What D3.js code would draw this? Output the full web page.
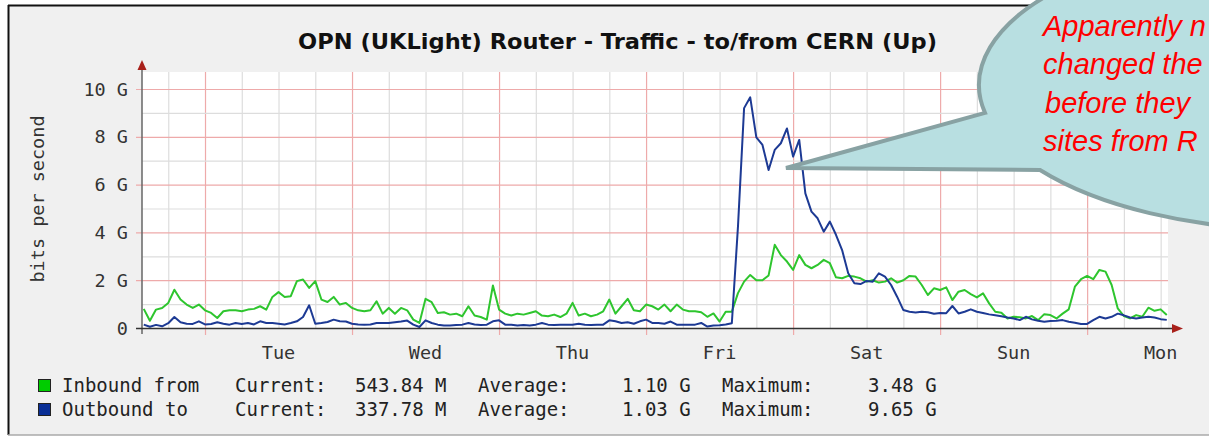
<!DOCTYPE html>
<html><head><meta charset="utf-8">
<script src="https://cdn.jsdelivr.net/npm/d3@7"></script>
<style>html,body{margin:0;padding:0;background:#fff;overflow:hidden}</style>
</head><body><div id="chart"></div>
<script>
// ---- data (hours measured from Tue 00:00, one sample per hour) ----
const titleText = "OPN (UKLight) Router - Traffic - to/from CERN (Up)";
const startHour = -10;
const inbound = [0.80,0.30,0.77,0.84,1.05,1.60,1.19,0.98,0.84,0.98,
0.74,0.63,0.42,0.70,0.74,0.74,0.70,0.77,0.80,0.91,0.77,1.30,1.50,1.30,1.33,1.96,2.03,1.68,1.96,1.19,1.09,1.30,0.98,1.05,
0.84,0.74,0.70,0.74,1.12,0.60,0.84,0.60,0.84,0.74,0.35,0.21,1.22,1.08,0.63,0.66,0.56,0.60,0.49,0.91,0.52,0.46,0.35,1.78,
0.77,0.60,0.52,0.60,0.56,0.63,0.70,0.52,0.49,0.56,0.46,0.60,1.05,0.52,0.60,0.49,0.56,0.70,1.19,0.60,0.91,1.22,0.74,0.70,
0.98,0.91,0.77,0.98,0.70,0.98,0.77,0.70,0.70,0.66,0.47,0.61,0.27,0.68,0.68,1.46,1.94,2.22,2.00,2.00,2.20,3.48,3.05,2.78,
2.43,3.05,2.64,2.50,2.64,2.85,2.71,2.12,2.08,2.18,2.15,2.08,1.94,2.00,1.90,1.94,2.08,1.90,2.00,2.18,2.15,1.80,1.38,1.66,
1.59,1.70,1.17,1.52,1.59,1.42,1.28,1.45,1.03,0.68,0.64,0.40,0.47,0.45,0.40,0.50,0.33,0.58,0.54,0.40,0.60,0.78,1.73,2.04,
2.18,2.04,2.43,2.36,1.80,0.82,0.50,0.40,0.54,0.47,0.85,0.72,0.78,0.54];
const outbound = [0.14,0.05,0.13,0.07,0.20,0.46,0.24,0.18,0.17,0.28,
0.15,0.17,0.24,0.18,0.14,0.21,0.17,0.21,0.15,0.28,0.21,0.21,0.18,0.15,0.21,0.28,0.46,0.95,0.18,0.21,0.25,0.35,0.28,0.27,
0.18,0.15,0.14,0.15,0.21,0.21,0.21,0.24,0.27,0.31,0.14,0.04,0.32,0.21,0.14,0.10,0.10,0.13,0.14,0.21,0.15,0.13,0.14,0.28,
0.32,0.14,0.14,0.10,0.13,0.10,0.14,0.21,0.14,0.13,0.14,0.14,0.14,0.18,0.14,0.13,0.14,0.14,0.32,0.28,0.21,0.24,0.18,0.28,
0.35,0.21,0.21,0.18,0.27,0.14,0.14,0.14,0.14,0.21,0.06,0.10,0.12,0.15,0.20,4.24,9.20,9.65,7.98,7.66,6.61,7.45,7.73,8.35,
7.17,7.87,5.63,4.87,4.59,4.03,4.45,3.90,3.26,2.29,1.87,1.84,1.97,1.94,2.29,2.15,1.80,1.30,0.75,0.68,0.65,0.68,0.66,0.60,
0.63,0.62,0.92,0.61,0.68,0.78,0.68,0.63,0.57,0.53,0.49,0.44,0.40,0.33,0.47,0.36,0.30,0.26,0.29,0.30,0.33,0.26,0.22,0.17,
0.17,0.33,0.47,0.40,0.47,0.60,0.53,0.44,0.40,0.44,0.47,0.44,0.37,0.34];
const dayLabels = ["Tue","Wed","Thu","Fri","Sat","Sun","Mon"];
const yTicks = [0,2,4,6,8,10];
const yTickLabels = ["0","2 G","4 G","6 G","8 G","10 G"];
const legendNames = ["Inbound from","Outbound to"];
const legendCurrent = ["543.84 M","337.78 M"];
const legendAverage = ["1.10 G","1.03 G"];
const legendMaximum = ["3.48 G","9.65 G"];
const calloutLines = ["Apparently n","changed the","before they","sites from R"];

// ---- layout ----
const W = 1209, H = 438;
const mono = "'DejaVu Sans Mono', monospace";
const svg = d3.select("#chart").append("svg").attr("width", W).attr("height", H);

const x = d3.scaleLinear().domain([-10.286, 157.2]).range([142, 1168]);
const y = d3.scaleLinear().domain([0, 10]).range([328, 89]);
const yTop = y.invert(72);

// panel
svg.append("rect").attr("x",8).attr("y",5).attr("width",W).attr("height",430).attr("fill","#f0f0f0");
svg.append("line").attr("x1",8).attr("x2",W).attr("y1",5.5).attr("y2",5.5).attr("stroke","#111").attr("stroke-width",2);
svg.append("line").attr("x1",8.5).attr("x2",8.5).attr("y1",5).attr("y2",435).attr("stroke","#111").attr("stroke-width",2);
svg.append("line").attr("x1",8).attr("x2",W).attr("y1",435).attr("y2",435).attr("stroke","#aaa").attr("stroke-width",1.5);

// plot bg
svg.append("rect").attr("x",x.range()[0]).attr("y",y(yTop)).attr("width",x.range()[1]-x.range()[0]).attr("height",y(0)-y(yTop)).attr("fill","#fff");

// grid
const vHours = d3.range(-6, 157, 6);
svg.append("g").selectAll("line").data(vHours).join("line")
  .attr("x1", d=>x(d)+0.5).attr("x2", d=>x(d)+0.5)
  .attr("y1", y(yTop)).attr("y2", d => d%24===0 ? y(0)+7 : y(0))
  .attr("stroke", d => d%24===0 ? "#eeaaaa" : "#dddddd").attr("stroke-width",1.2);
const hVals = d3.range(1, 11, 1);
svg.append("g").selectAll("line").data(hVals).join("line")
  .attr("x1", d => d%2===0 ? 136 : x.range()[0]).attr("x2", x.range()[1])
  .attr("y1", d=>y(d)+0.5).attr("y2", d=>y(d)+0.5)
  .attr("stroke", d => d%2===0 ? "#eeaaaa" : "#dddddd").attr("stroke-width",1.2);

// series
const line = d3.line().x((d,i)=>x(startHour+i)).y(d=>y(d));
svg.append("path").datum(inbound).attr("d",line).attr("fill","none").attr("stroke","#2ec52e").attr("stroke-width",2).attr("stroke-linejoin","round");
svg.append("path").datum(outbound).attr("d",line).attr("fill","none").attr("stroke","#1d3a94").attr("stroke-width",2).attr("stroke-linejoin","round");

// axes
svg.append("line").attr("x1",142).attr("x2",142).attr("y1",y(0)+6).attr("y2",66).attr("stroke","#666").attr("stroke-width",1.5);
svg.append("path").attr("d","M142,60 L137.5,70 L146.5,70 Z").attr("fill","#a8201a");
svg.append("line").attr("x1",136).attr("x2",1173).attr("y1",y(0)+0.5).attr("y2",y(0)+0.5).attr("stroke","#333").attr("stroke-width",1.5);
svg.append("path").attr("d",`M1183,${y(0)+0.5} L1172,${y(0)-4} L1172,${y(0)+5} Z`).attr("fill","#a8201a");

// y labels
svg.append("g").selectAll("text").data(yTicks).join("text")
  .attr("x",128).attr("y",d=>y(d)+6.5).attr("text-anchor","end")
  .attr("font-family",mono).attr("font-size",18.5).attr("fill","#333")
  .text((d,i)=>yTickLabels[i]);
svg.append("text").attr("transform","translate(44,199) rotate(-90)").attr("text-anchor","middle")
  .attr("font-family",mono).attr("font-size",18.5).attr("fill","#333").text("bits per second");

// day labels at noon
svg.append("g").selectAll("text").data(dayLabels).join("text")
  .attr("x",(d,i)=>x(12+24*i)).attr("y",359).attr("text-anchor","middle")
  .attr("font-family",mono).attr("font-size",18.5).attr("fill","#333").text(d=>d);

// title
svg.append("text").attr("x",298).attr("y",49).attr("font-family","'DejaVu Sans', sans-serif")
  .attr("font-weight","bold").attr("font-size",22).attr("textLength",639).attr("lengthAdjust","spacingAndGlyphs")
  .attr("fill","#111").text(titleText);

// legend
const legColors = ["#00cc00","#0a2f96"];
const leg = svg.append("g");
legendNames.forEach((n,i)=>{
  const by = 392 + i*24;
  leg.append("rect").attr("x",38.5).attr("y",by-12.5).attr("width",12).attr("height",12)
    .attr("fill",legColors[i]).attr("stroke","#222").attr("stroke-width",1);
  const cols = [[62,n],[235,"Current:"],[355,legendCurrent[i]],[478,"Average:"],[622,legendAverage[i]],[722,"Maximum:"],[868,legendMaximum[i]]];
  cols.forEach(([cx,t])=>{
    leg.append("text").attr("x",cx).attr("y",by).attr("font-family",mono).attr("font-size",19).attr("fill","#222").text(t);
  });
});

// callout bubble
const cx0=1300, cy0=85, rx=321, ry=145;
const ey = (xx, sign) => cy0 + sign*ry*Math.sqrt(1-Math.pow((xx-cx0)/rx,2));
const up = [985, ey(985,1)], lo = [1040, ey(1040,1)], tip=[786,168];
svg.append("path")
  .attr("d",`M${up[0]},${up[1]} L${tip[0]},${tip[1]} L${lo[0]},${lo[1]} A${rx},${ry} 0 1 0 ${up[0]},${up[1]} Z`)
  .attr("fill","#b8dfe1").attr("stroke","#88a2a3").attr("stroke-width",4).attr("stroke-linejoin","miter");
svg.append("g").selectAll("text").data(calloutLines).join("text")
  .attr("x",(d,i)=> i===2 ? 1045 : 1043).attr("y",(d,i)=>36+i*38.3)
  .attr("font-family","'Liberation Sans', Arial, sans-serif").attr("font-style","italic")
  .attr("font-size",29).attr("fill","#ff0000").text(d=>d);
</script></body></html>
